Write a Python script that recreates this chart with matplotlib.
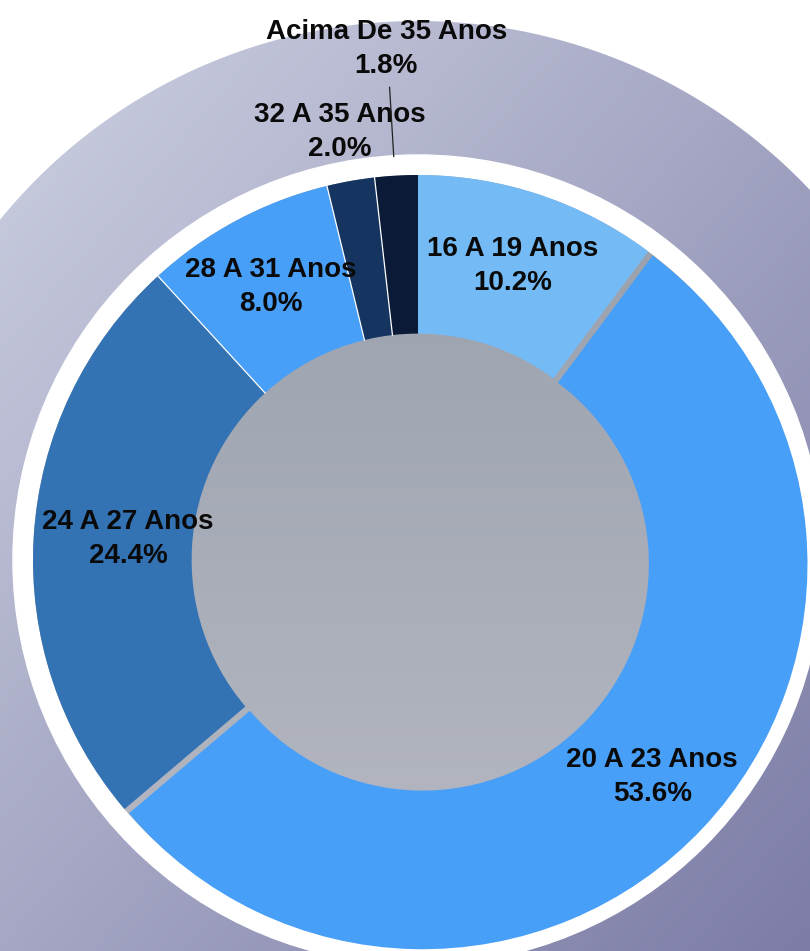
import numpy as np
import matplotlib
matplotlib.use("Agg")
import matplotlib.pyplot as plt
from matplotlib.patches import Circle, Polygon

# data
categories = ["16 A 19 Anos", "20 A 23 Anos", "24 A 27 Anos",
              "28 A 31 Anos", "32 A 35 Anos", "Acima De 35 Anos"]
shares = [10.2, 53.6, 24.4, 8.0, 2.0, 1.8]
colors = ["#74bbf6", "#479ff8", "#3373b4", "#479ff8", "#153460", "#0a1a37"]
explode = [0, 0.016, 0, 0, 0, 0]

# label placement (radius, angle tweak in degrees)
label_r = [0.81, 0.825, 0.756, 0.813, 1.137, 1.337]
label_dang = [0.6, 0.7, -1.0, 0.0, 0.2, 0.3]
label_dy = -0.007

plt.rcParams["font.family"] = ["Liberation Sans", "DejaVu Sans"]

fig = plt.figure(figsize=(8.1, 9.51), dpi=100)
ax = fig.add_axes([0, 0, 1, 1])
x0, x1 = -418 / 385, 392 / 385
y0, y1 = -391 / 385, 560 / 385

# diagonal gradient backdrop, clipped to a big rounded shape
gx, gy = np.meshgrid(np.linspace(0, 1, 400), np.linspace(0, 1, 400))
t = (gx + gy) / 2
c_a = np.array([206, 210, 226]) / 255
c_b = np.array([124, 124, 166]) / 255
grad = c_a[None, None, :] * (1 - t[..., None]) + c_b[None, None, :] * t[..., None]
bg = ax.imshow(grad, extent=[x0, x1, y0, y1], origin="upper", zorder=0,
               interpolation="bilinear")
ang = np.linspace(0, np.pi, 200)
shape = np.vstack([np.c_[1.40 * np.cos(ang), 1.40 * np.sin(ang)],
                   [[-1.40, -3], [1.40, -3]]])
clip = Polygon(shape, closed=True, transform=ax.transData)
bg.set_clip_path(clip)

ax.add_patch(Circle((0, 0), 1.052, color="white", zorder=1))

# grey hub with vertical gradient
hub = np.linspace(0, 1, 300)[:, None, None]
top = np.array([152, 160, 172]) / 255
bot = np.array([184, 186, 196]) / 255
hub_img = np.repeat(top * (1 - hub) + bot * hub, 2, axis=1)
hi = ax.imshow(hub_img, extent=[-1, 1, -1, 1], origin="upper", zorder=2)
hi.set_clip_path(Circle((0, 0), 1.0, transform=ax.transData))

inner = 0.588
wedges, _ = ax.pie(shares, colors=colors, startangle=90, counterclock=False,
                   explode=explode, radius=1.0,
                   wedgeprops=dict(width=1 - inner, edgecolor="none"))
for w in wedges:
    w.set_zorder(3)

# thin white separators on the small slices
cum = np.cumsum([0] + shares)
for k in [3, 4, 5]:
    a = np.deg2rad(90 - cum[k] / 100 * 360)
    ax.plot([inner * np.cos(a), 1.0 * np.cos(a)],
            [inner * np.sin(a), 1.0 * np.sin(a)],
            color="white", lw=0.9, zorder=4)

for i, (cat, val) in enumerate(zip(categories, shares)):
    mid = 90 - (cum[i] + val / 2) / 100 * 360 + label_dang[i]
    a = np.deg2rad(mid)
    ax.text(label_r[i] * np.cos(a), label_r[i] * np.sin(a) + label_dy,
            f"{cat}\n{val:.1f}%", ha="center", va="center",
            fontsize=20, fontweight="bold", color="#0a0a0a",
            linespacing=1.4, zorder=5)

# leader line for the last slice
a = np.deg2rad(90 - (cum[5] + shares[5] / 2) / 100 * 360 + 0.2)
ax.plot([1.05 * np.cos(a), 1.23 * np.cos(a)],
        [1.05 * np.sin(a), 1.23 * np.sin(a)], color="#222222", lw=0.9, zorder=5)

ax.set_xlim(x0, x1)
ax.set_ylim(y0, y1)
ax.set_aspect("equal")
ax.axis("off")
fig.savefig("out.png", dpi=100, facecolor="white")
